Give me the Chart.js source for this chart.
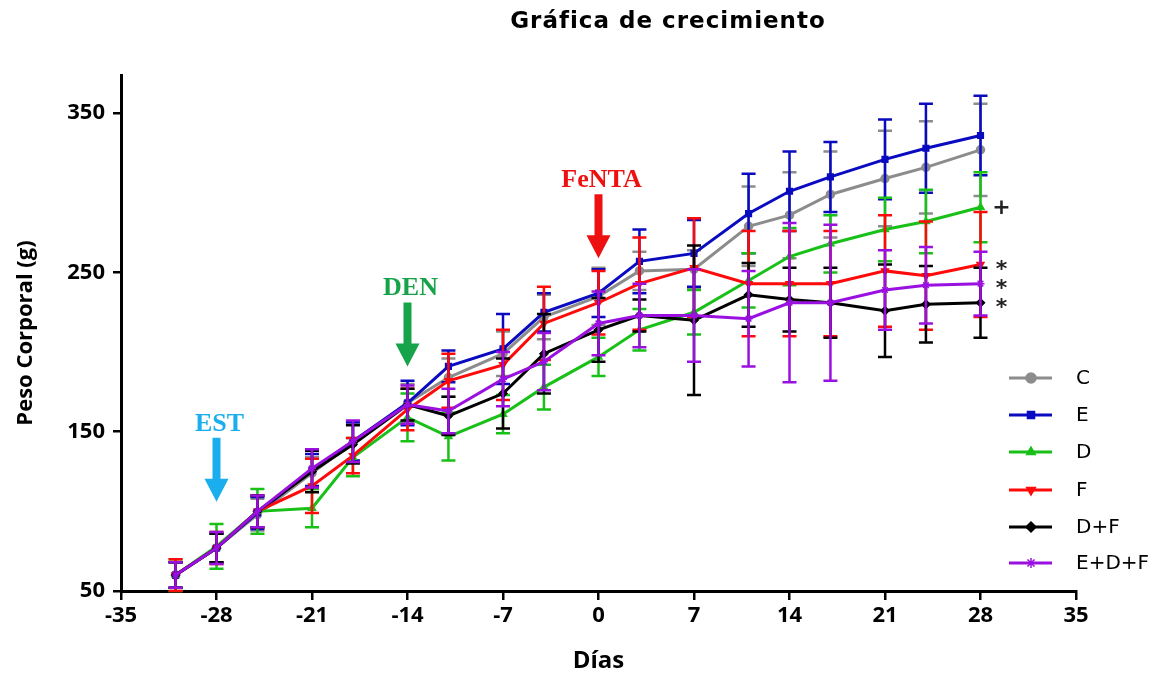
<!DOCTYPE html>
<html lang="es">
<head>
  <meta charset="UTF-8">
  <title>Gráfica de crecimiento</title>
  <script src="https://cdn.jsdelivr.net/npm/chart.js"></script>
  <style>
    html, body { margin: 0; padding: 0; background: #fff; }
    #wrap { width: 1156px; height: 677px; }
  </style>
</head>
<body>
  <div id="wrap"><canvas id="growthChart" width="1156" height="677"></canvas></div>

  <script>
    // Días de medición
    const days = [-31, -28, -25, -21, -18, -14, -11, -7, -4, 0, 3, 7, 11, 14, 17, 21, 24, 28];
    const groups = ['C', 'E', 'D', 'F', 'D+F', 'E+D+F'];

    // Peso corporal medio (g) y desviación
    const pesoC   = [60, 77, 98, 124, 143, 168, 184, 199, 222, 235, 251, 252, 279, 286, 299, 309, 316, 327];
    const sdC     = [8, 9, 10, 10, 12, 12, 12, 14, 14, 18, 12, 12, 25, 27, 27, 30, 29, 29];
    const pesoE   = [60, 77, 99, 126, 144, 168, 191, 202, 225, 237, 257, 262, 287, 301, 310, 321, 328, 336];
    const sdE     = [8, 9, 10, 10, 12, 14, 10, 22, 12, 15, 20, 21, 25, 25, 22, 25, 28, 25];
    const pesoD   = [60, 78, 100, 102, 134, 159, 147, 161, 178, 197, 214, 225, 245, 260, 268, 277, 282, 291];
    const sdD     = [10, 14, 14, 12, 12, 15, 15, 12, 14, 12, 13, 14, 17, 18, 18, 20, 20, 22];
    const pesoF   = [60, 77, 100, 116, 135, 164, 182, 192, 218, 231, 243, 253, 243, 243, 243, 251, 248, 255];
    const sdF     = [10, 10, 10, 17, 11, 13, 17, 22, 23, 20, 29, 31, 33, 33, 33, 35, 34, 33];
    const pesoDF  = [60, 77, 100, 125, 142, 167, 160, 174, 199, 214, 223, 220, 236, 233, 231, 226, 230, 231];
    const sdDF    = [8, 9, 10, 13, 12, 10, 12, 22, 25, 20, 10, 47, 20, 20, 22, 29, 24, 22];
    const pesoEDF = [60, 77, 100, 127, 144, 167, 163, 183, 194, 218, 223, 223, 221, 231, 231, 239, 242, 243];
    const sdEDF   = [8, 10, 10, 12, 13, 12, 14, 17, 18, 20, 20, 29, 30, 50, 49, 25, 24, 20];

    const xTicks = [-35, -28, -21, -14, -7, 0, 7, 14, 21, 28, 35];
    const yTicks = [50, 150, 250, 350];

    // Tratamientos y marcas de significancia
    const eventDays = [-28, -14, 0];
    const eventLabels = ['EST', 'DEN', 'FeNTA'];
    const sigMarks = ['', '', '+', '*', '*', '*'];

    const means = [pesoC, pesoE, pesoD, pesoF, pesoDF, pesoEDF];
    const sds = [sdC, sdE, sdD, sdF, sdDF, sdEDF];

    const colors = ['#8c8c8c', '#0a0ac0', '#18c018', '#ff0a0a', '#000000', '#9a10e0'];
    const pointStyles = ['circle', 'rect', 'triangle', 'triangle', 'rectRot', 'star'];
    const pointRotations = [0, 0, 0, 180, 0, 0];
    const eventColors = ['#1aaeee', '#17a34a', '#ee1111'];

    const datasets = groups.map((g, i) => ({
      label: g,
      data: days.map((d, j) => ({ x: d, y: means[i][j] })),
      sd: sds[i],
      borderColor: colors[i],
      backgroundColor: colors[i],
      borderWidth: 3,
      pointStyle: pointStyles[i],
      pointRotation: pointRotations[i],
      pointRadius: 4,
      pointBorderWidth: 1.5,
      tension: 0,
      order: groups.length - i
    }));

    // Barras de error dibujadas con la escala y
    const errorBars = {
      id: 'errorBars',
      afterDatasetDraw(chart, args) {
        const ds = chart.data.datasets[args.index];
        const y = chart.scales.y;
        const ctx = chart.ctx;
        ctx.save();
        ctx.strokeStyle = ds.borderColor;
        ctx.lineWidth = 2.5;
        args.meta.data.forEach((pt, j) => {
          const v = ds.data[j].y, e = ds.sd[j];
          const top = y.getPixelForValue(v + e);
          const bot = y.getPixelForValue(v - e);
          ctx.beginPath();
          ctx.moveTo(pt.x, top); ctx.lineTo(pt.x, bot);
          ctx.moveTo(pt.x - 7, top); ctx.lineTo(pt.x + 7, top);
          ctx.moveTo(pt.x - 7, bot); ctx.lineTo(pt.x + 7, bot);
          ctx.stroke();
        });
        ctx.restore();
      }
    };

    // Título, flechas, marcas y leyenda
    const extras = {
      id: 'extras',
      afterDraw(chart, args, opts) {
        const { ctx, scales: { x, y } } = chart;
        ctx.save();

        ctx.fillStyle = '#000';
        ctx.font = 'bold 23px "DejaVu Sans"';
        ctx.letterSpacing = '1px';
        ctx.textAlign = 'center';
        ctx.textBaseline = 'middle';
        ctx.fillText('Gráfica de crecimiento', 668, 22);
        ctx.letterSpacing = '0px';

        // flechas
        eventDays.forEach((d, i) => {
          const cx = x.getPixelForValue(d);
          const tip = y.getPixelForValue(opts.arrowTips[i]);
          const topY = tip - 64, headY = tip - 23;
          ctx.fillStyle = eventColors[i];
          ctx.beginPath();
          ctx.moveTo(cx - 4, topY);
          ctx.lineTo(cx + 4, topY);
          ctx.lineTo(cx + 4, headY);
          ctx.lineTo(cx + 12, headY);
          ctx.lineTo(cx, tip);
          ctx.lineTo(cx - 12, headY);
          ctx.lineTo(cx - 4, headY);
          ctx.closePath();
          ctx.fill();
          ctx.font = 'bold 26px "Liberation Serif"';
          ctx.textAlign = 'center';
          ctx.textBaseline = 'alphabetic';
          ctx.fillText(eventLabels[i], cx + 3, topY - 7);
        });

        // marcas de significancia
        ctx.fillStyle = '#222';
        ctx.font = 'bold 22px "DejaVu Sans"';
        ctx.textAlign = 'center';
        ctx.textBaseline = 'alphabetic';
        sigMarks.forEach((m, i) => {
          if (!m) return;
          const last = means[i][means[i].length - 1];
          const cy = y.getPixelForValue(last);
          const mt = ctx.measureText(m);
          const off = (mt.actualBoundingBoxAscent - mt.actualBoundingBoxDescent) / 2;
          ctx.fillText(m, x.getPixelForValue(28) + 21, cy + off);
        });

        // leyenda
        const rows = [378, 415, 452, 490, 527, 563];
        ctx.font = '20px "DejaVu Sans"';
        ctx.textAlign = 'left';
        ctx.textBaseline = 'middle';
        groups.forEach((g, i) => {
          const ry = rows[i];
          ctx.strokeStyle = colors[i];
          ctx.fillStyle = colors[i];
          ctx.lineWidth = 3;
          ctx.beginPath();
          ctx.moveTo(1009, ry); ctx.lineTo(1052, ry);
          ctx.stroke();
          ctx.lineWidth = 1.5;
          if (Chart.helpers && Chart.helpers.drawPoint) {
            Chart.helpers.drawPoint(ctx, { pointStyle: pointStyles[i], rotation: pointRotations[i], radius: 5, borderWidth: 1.5 }, 1031, ry);
          }
          ctx.fillStyle = '#000';
          ctx.fillText(g, 1076, ry + 1);
        });

        ctx.restore();
      }
    };

    const tickFont = { family: '"Open Sans", sans-serif', size: 22, weight: 'bold' };

    new Chart(document.getElementById('growthChart'), {
      type: 'line',
      data: { datasets: datasets },
      options: {
        responsive: false,
        animation: false,
        layout: { padding: { top: 75, right: 80, left: 0, bottom: 0 } },
        plugins: {
          legend: { display: false },
          tooltip: { enabled: false },
          extras: { arrowTips: [106, 191, 259] }
        },
        scales: {
          x: {
            type: 'linear',
            min: -35,
            max: 35,
            afterBuildTicks: s => { s.ticks = xTicks.map(v => ({ value: v })); },
            afterFit: s => { s.height = 86; },
            grid: { drawOnChartArea: false, color: '#000', lineWidth: 2.5, tickLength: 9 },
            border: { color: '#000', width: 3 },
            ticks: { color: '#000', font: tickFont, padding: 3, maxRotation: 0 },
            title: {
              display: true,
              text: 'Días',
              color: '#000',
              font: { family: '"Open Sans", sans-serif', size: 24, weight: 'bold' },
              padding: { top: 0, bottom: 1 }
            }
          },
          y: {
            min: 50,
            max: 374,
            afterBuildTicks: s => { s.ticks = yTicks.map(v => ({ value: v })); },
            afterFit: s => { s.width = 121; },
            grid: { drawOnChartArea: false, color: '#000', lineWidth: 2.5, tickLength: 8 },
            border: { color: '#000', width: 3 },
            ticks: { color: '#000', font: tickFont, padding: 8 },
            title: {
              display: true,
              text: 'Peso Corporal (g)',
              color: '#000',
              font: { family: '"Open Sans", sans-serif', size: 22, weight: 'bold' },
              padding: { top: 13, bottom: 0 }
            }
          }
        }
      },
      plugins: [errorBars, extras]
    });
  </script>
</body>
</html>
